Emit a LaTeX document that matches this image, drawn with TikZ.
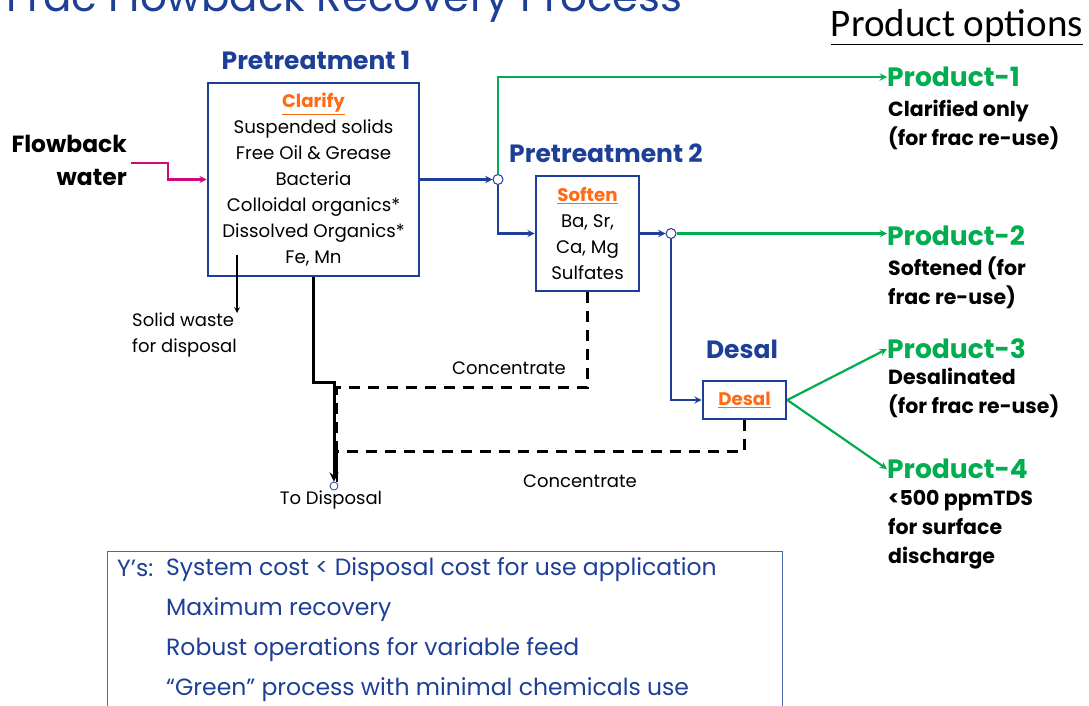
\documentclass[tikz,border=0pt]{standalone}
\usepackage{fontspec}
\setmainfont{Poppins}
\newfontfamily\calibrifont{Carlito}
\usetikzlibrary{shapes.geometric, arrows}
\usetikzlibrary{positioning}
\definecolor{geblue}{HTML}{1E3F97}
\definecolor{georange}{HTML}{FF6A13}
\definecolor{gegreen}{HTML}{00AD4F}
\definecolor{gemagenta}{HTML}{CC0A7D}
\tikzstyle{stage} = [rectangle, draw=geblue, line width=2.6pt, fill=white, align=center, inner sep=0pt, font=\fontsize{18.2}{26}\selectfont]
\tikzstyle{stagetitle} = [text=geblue, inner sep=0pt, font=\bfseries\fontsize{25}{28}\selectfont]
\tikzstyle{product} = [text=gegreen, inner sep=0pt, anchor=west, font=\bfseries\fontsize{26.5}{30}\selectfont]
\tikzstyle{productnote} = [inner sep=0pt, anchor=north west, align=left, font=\bfseries\fontsize{20.5}{29}\selectfont]
\tikzstyle{note} = [inner sep=0pt, font=\fontsize{18}{26}\selectfont]
\tikzstyle{joint} = [circle, draw=geblue, fill=white, line width=1pt, inner sep=0pt, minimum size=10pt]
\tikzstyle{arrow} = [line width=1.5pt,->,>=stealth]
\tikzstyle{flow} = [line width=2.2pt, draw=geblue, ->, >=stealth]
\tikzstyle{product_flow} = [line width=2.2pt, draw=gegreen, ->, >=stealth]
\tikzstyle{waste} = [line width=3pt, ->, >=stealth]
\tikzstyle{concentrate} = [line width=2.6pt, dash pattern=on 11pt off 8pt]
\newcommand{\hl}[1]{\textcolor{georange}{\bfseries\underline{#1}}}

\begin{document}
\begin{tikzpicture}[x=1pt, y=-1pt]
 \useasboundingbox (0,0) rectangle (1089,706);
 \clip (0,0) rectangle (1089,706);

 \node (title) [anchor=base east, inner sep=0pt, text=geblue, font=\fontsize{42}{48}\selectfont] at (683,12) {Frac Flowback Recovery Process};
 \node (options) [anchor=base east, inner sep=0pt, font=\calibrifont\fontsize{39}{42}\selectfont] at (1083,37) {\underline{Product options}};

 % process stages
 \node (pt1) [stage, minimum width=211pt, minimum height=193pt] at (313.5,179.5) {\hl{Clarify}\\Suspended solids\\Free Oil \& Grease\\Bacteria\\Colloidal organics*\\Dissolved Organics*\\Fe, Mn};
 \node (pt1title) [stagetitle] at (316,60) {Pretreatment 1};
 \node (pt2) [stage, minimum width=103pt, minimum height=115pt] at (587.5,233.5) {\hl{Soften}\\Ba, Sr,\\Ca, Mg\\Sulfates};
 \node (pt2title) [stagetitle] at (606,153) {Pretreatment 2};
 \node (ds) [stage, minimum width=83pt, minimum height=38pt] at (744.5,400) {\hl{Desal}};
 \node (dstitle) [stagetitle] at (742,349) {Desal};

 \node (fw) [anchor=east, align=right, inner sep=0pt, font=\bfseries\fontsize{23.4}{33}\selectfont] at (127,160) {Flowback\\water};
 \node (sw) [note, anchor=north west, align=left] at (132,313) {Solid waste\\for disposal};
 \coordinate (swtop) at (237,255);

 \node (j1) [joint] at (498,179.5) {};
 \node (j2) [joint] at (671,233.5) {};
 \node (disp) [circle, draw=geblue, fill=white, line width=0.8pt, inner sep=0pt, minimum size=8pt] at (334,486) {};
 \node (todisp) [note] at (331,500) {To Disposal};
 \node (c1) [note] at (509,368) {Concentrate};
 \node (c2) [note] at (580,481) {Concentrate};

 % products
 \node (p1) [product] at (887,77) {Product-1};
 \node (p1d) [productnote] at (888,100) {Clarified only\\(for frac re-use)};
 \node (p2) [product] at (887,236) {Product-2};
 \node (p2d) [productnote] at (888,257) {Softened (for\\frac re-use)};
 \node (p3) [product] at (887,349) {Product-3};
 \node (p3d) [productnote] at (888,368) {Desalinated\\(for frac re-use)};
 \node (p4) [product] at (887,469) {Product-4};
 \node (p4d) [productnote] at (888,490) {<500 ppmTDS\\for surface\\discharge};

 % connectors
 \draw [line width=2.2pt, draw=gemagenta, ->, >=stealth] ([xshift=4pt,yshift=-3pt]fw.east) -- ++(37,0) |- (pt1.west);
 \draw [flow] (pt1.east) -- (j1.west);
 \draw [product_flow] (j1.north) |- (p1.west);
 \draw [flow] (j1.south) |- (pt2.west);
 \draw [flow] (pt2.east) -- (j2.west);
 \draw [product_flow] (j2.east) -- (j2.east -| p2.west);
 \draw [flow] (j2.south) |- (ds.west);
 \draw [product_flow] (ds.east) -- (p3.west);
 \draw [product_flow] (ds.east) -- (p4.west);

 \draw [arrow] (swtop) -- (swtop |- sw.north);
 \draw [waste] (pt1.south) -- ++(0,105) -| (disp.north);
 \draw [concentrate] (pt2.south) -- ++(0,95) -| ([xshift=3pt]disp.north);
 \draw [concentrate] (ds.south) -- ++(0,31) -| ([xshift=3pt]disp.north);

 % goals
 \draw [draw=geblue!80, line width=1pt] (107,551) rectangle (782,720);
 \node (ys) [anchor=west, inner sep=0pt, text=geblue, font=\fontsize{23.5}{40}\selectfont] at (117,568) {Y’s:};
 \node (goals) [anchor=north west, align=left, inner sep=0pt, text=geblue, font=\fontsize{23.5}{40}\selectfont] at (166,557) {System cost < Disposal cost for use application\\Maximum recovery\\Robust operations for variable feed\\“Green” process with minimal chemicals use};
\end{tikzpicture}
\end{document}
